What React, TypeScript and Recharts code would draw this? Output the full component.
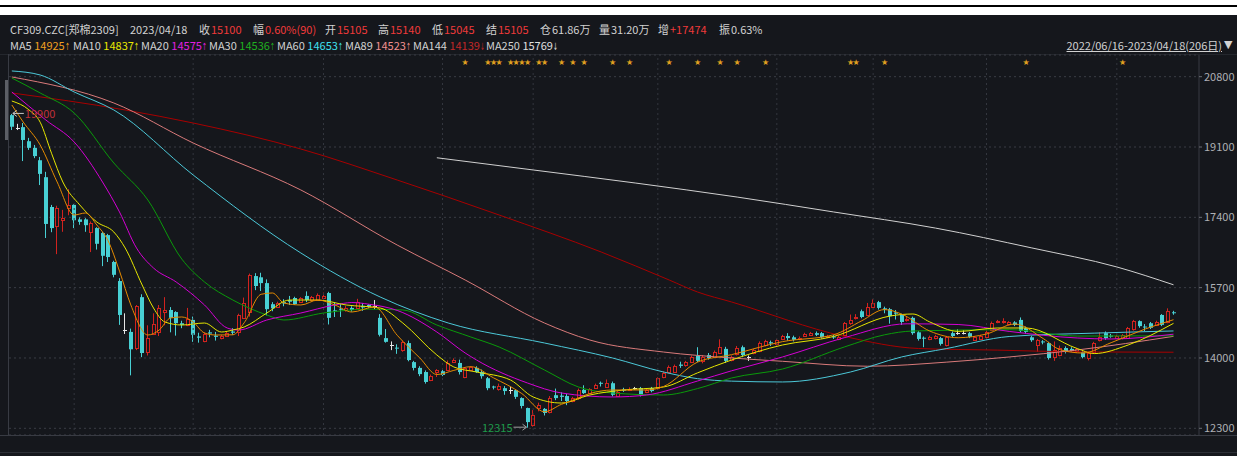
import React from 'react';
import {
    ComposedChart,
    Bar,
    Line,
    XAxis,
    YAxis,
    CartesianGrid,
    ReferenceLine,
    ReferenceDot
} from 'recharts';

// daily candles, 2022/06/16 - 2023/04/18 (206 days)
const OPEN = [
    19870, 19560, 19580, 19240, 19080, 18780, 18370, 17650, 17190, 17330,
    17630, 17700, 17350, 17350, 17040, 17140, 17020, 16970, 16320, 15860,
    14680, 14630, 14240, 15470, 14140, 14580, 14630, 15110, 15160, 15110,
    14840, 14800, 14920, 14520, 14410, 14620, 14540, 14480, 14530, 14640,
    14630, 14970, 15110, 15980, 15950, 15810, 15300, 15230, 15350, 15400,
    15450, 15350, 15500, 15400, 15400, 15460, 15570, 15150, 15190, 15160,
    15210, 15210, 15260, 15280, 15250, 14970, 14480, 14310, 14250, 14190,
    14360, 13900, 13760, 13660, 13470, 13660, 13680, 13720, 13910, 13880,
    13540, 13710, 13760, 13660, 13510, 13310, 13250, 13270, 13230, 13220,
    13030, 12790, 12380, 12800, 12770, 12690, 13100, 13090, 13080, 12960,
    13030, 13230, 13150, 13270, 13400, 13300, 13390, 13080, 13240, 13220,
    13270, 13270, 13170, 13270, 13270, 13540, 13660, 13660, 13840, 13830,
    13910, 14050, 13920, 14070, 14030, 14130, 14220, 13950, 14090, 14260,
    14020, 14120, 14170, 14310, 14380, 14330, 14460, 14530, 14500, 14460,
    14530, 14560, 14600, 14600, 14500, 14520, 14460, 14550, 14840, 14980,
    15130, 15040, 15230, 15350, 15200, 15180, 15100, 15040, 14930, 14970,
    14620, 14490, 14460, 14480, 14480, 14310, 14600, 14600, 14600, 14600,
    14440, 14460, 14510, 14680, 14870, 14880, 14820, 14860, 14920, 14720,
    14500, 14310, 14400, 14360, 14020, 14070, 14240, 14220, 14160, 14140,
    14000, 14140, 14430, 14600, 14540, 14480, 14480, 14480, 14700, 14890,
    14760, 14840, 14800, 15040, 14870, 15105
];
const HIGH = [
    19900, 19660, 19680, 19320, 19150, 18860, 18500, 17700, 17680, 17580,
    18080, 17720, 17400, 17380, 17300, 17160, 17050, 17000, 16350, 15930,
    15080, 14710, 15280, 15540, 14790, 15080, 15280, 15470, 15230, 15130,
    14900, 15210, 15000, 14610, 14620, 14680, 14630, 14560, 14640, 14720,
    15070, 15460, 16040, 16050, 16060, 15900, 15350, 15360, 15420, 15500,
    15480, 15470, 15610, 15500, 15560, 15580, 15600, 15350, 15300, 15260,
    15250, 15430, 15330, 15300, 15400, 15060, 14700, 14400, 14330, 14420,
    14420, 13930, 13800, 13700, 13600, 13730, 13720, 13940, 13990, 13960,
    13780, 13800, 13800, 13720, 13540, 13330, 13380, 13320, 13300, 13240,
    13050, 12800, 12740, 12920, 12790, 13080, 13260, 13170, 13130, 13060,
    13260, 13340, 13270, 13380, 13430, 13480, 13430, 13200, 13280, 13290,
    13300, 13300, 13260, 13300, 13530, 13680, 13820, 13840, 13910, 13930,
    14060, 14260, 14070, 14120, 14180, 14450, 14270, 14060, 14290, 14300,
    14060, 14220, 14400, 14440, 14420, 14460, 14560, 14600, 14540, 14520,
    14610, 14630, 14640, 14630, 14560, 14560, 14540, 14870, 15050, 15060,
    15170, 15330, 15420, 15380, 15240, 15210, 15160, 15070, 15000, 15000,
    14650, 14520, 14540, 14560, 14510, 14530, 14640, 14690, 14670, 14630,
    14530, 14560, 14660, 14880, 14920, 14960, 14890, 14890, 14980, 14760,
    14530, 14460, 14430, 14390, 14400, 14300, 14280, 14260, 14240, 14180,
    14150, 14390, 14620, 14640, 14580, 14560, 14580, 14750, 14920, 14910,
    14820, 14870, 14900, 15060, 15200, 15140
];
const LOW = [
    19510, 19510, 18760, 19030, 18830, 18180, 16900, 17040, 16510, 17050,
    17450, 17140, 17220, 17050, 16560, 16620, 16220, 16320, 15950, 14800,
    14580, 13580, 14190, 14020, 14060, 14560, 14530, 14790, 14620, 14540,
    14720, 14770, 14390, 14370, 14380, 14500, 14420, 14450, 14510, 14560,
    14530, 14940, 15000, 15640, 15620, 15030, 15130, 15210, 15250, 15280,
    15280, 15330, 15350, 15380, 15380, 15420, 14810, 14990, 14990, 15120,
    15120, 15180, 15140, 15200, 15180, 14520, 14370, 14190, 14100, 14150,
    13920, 13700, 13560, 13380, 13440, 13540, 13560, 13690, 13880, 13600,
    13510, 13680, 13640, 13500, 13220, 13240, 13210, 13110, 13130, 13010,
    12780, 12315, 12340, 12710, 12610, 12660, 12980, 12960, 12860, 12930,
    12990, 13130, 13120, 13250, 13310, 13280, 13070, 13060, 13180, 13200,
    13230, 13070, 13150, 13170, 13230, 13510, 13630, 13640, 13760, 13790,
    13880, 13900, 13870, 13960, 14000, 14100, 13880, 13920, 14060, 14020,
    13930, 14090, 14140, 14280, 14290, 14300, 14430, 14420, 14400, 14430,
    14510, 14530, 14530, 14470, 14480, 14460, 14430, 14520, 14800, 14930,
    14960, 15010, 15210, 15170, 15080, 14830, 14930, 14800, 14880, 14560,
    14420, 14260, 14430, 14450, 14300, 14280, 14500, 14560, 14570, 14480,
    14410, 14440, 14480, 14650, 14840, 14830, 14800, 14770, 14620, 14590,
    14390, 14150, 14330, 13960, 13930, 14040, 14110, 14140, 14120, 13990,
    13940, 14120, 14400, 14440, 14490, 14460, 14450, 14460, 14660, 14730,
    14650, 14700, 14780, 14770, 14840, 15045
];
const CLOSE = [
    19590, 19560, 19270, 19080, 18880, 18450, 17240, 17140, 17630, 17380,
    17700, 17330, 17290, 17210, 17260, 16760, 16470, 16440, 16010, 15040,
    14680, 14210, 15250, 14120, 14480, 14820, 15210, 15150, 14970, 14840,
    14800, 14940, 14560, 14490, 14580, 14590, 14510, 14530, 14600, 14610,
    15040, 15330, 16000, 15740, 15810, 15180, 15200, 15320, 15320, 15360,
    15300, 15450, 15400, 15470, 15520, 15490, 14970, 15130, 15170, 15210,
    15160, 15350, 15220, 15240, 15250, 14560, 14390, 14310, 14230, 14380,
    13950, 13760, 13610, 13420, 13560, 13710, 13590, 13880, 13960, 13660,
    13750, 13780, 13660, 13560, 13270, 13290, 13320, 13200, 13230, 13060,
    12840, 12450, 12610, 12870, 12670, 13030, 13030, 13060, 12960, 13030,
    13220, 13150, 13240, 13340, 13380, 13390, 13110, 13170, 13210, 13250,
    13270, 13100, 13220, 13200, 13510, 13630, 13780, 13800, 13810, 13900,
    14030, 13930, 14020, 14000, 14140, 14260, 13930, 14020, 14240, 14070,
    14020, 14190, 14360, 14400, 14350, 14430, 14530, 14480, 14440, 14490,
    14580, 14600, 14560, 14500, 14530, 14500, 14510, 14840, 14920, 15000,
    14990, 15230, 15330, 15210, 15170, 15010, 15070, 14870, 14950, 14600,
    14460, 14470, 14500, 14530, 14340, 14500, 14530, 14600, 14600, 14510,
    14500, 14530, 14630, 14840, 14890, 14900, 14860, 14800, 14650, 14630,
    14430, 14430, 14380, 14000, 14190, 14240, 14150, 14170, 14210, 14020,
    14120, 14360, 14500, 14480, 14520, 14530, 14550, 14720, 14890, 14770,
    14740, 14730, 14870, 14800, 15130, 15100
];

// moving averages as [day, value]
const MA5 = [
    [0, 20116], [2, 19705], [5, 19149], [8, 18254], [11, 17456], [13, 17505], [15, 17215],
    [17, 16830], [19, 16100], [21, 15281], [24, 14555], [26, 14676], [28, 14966], [30, 14991],
    [32, 14870], [34, 14604], [36, 14555], [39, 14560], [41, 14850], [44, 15540], [46, 15571],
    [48, 15329], [51, 15281], [54, 15401], [57, 15281], [60, 15111], [64, 15232], [68, 14550],
    [72, 14000], [75, 13600], [78, 13700], [81, 13790], [85, 13520], [90, 13140], [94, 12700],
    [97, 12880], [99, 12980], [102, 13140], [106, 13226], [112, 13226], [115, 13310],
    [121, 13900], [127, 14080], [136, 14395], [145, 14560], [150, 14900], [154, 15170],
    [157, 15063], [162, 14650], [167, 14490], [172, 14580], [177, 14820], [182, 14470],
    [185, 14200], [189, 14120], [194, 14370], [200, 14700], [205, 14925]
];
const MA10 = [
    [0, 20212], [3, 20000], [5, 19700], [7, 18950], [9, 18254], [12, 17698], [15, 17287],
    [18, 17045], [20, 16659], [23, 15764], [25, 15208], [27, 14870], [30, 14797], [34, 14845],
    [37, 14628], [39, 14676], [41, 14749], [45, 15087], [49, 15401], [54, 15401], [59, 15281],
    [65, 15208], [69, 14845], [75, 14072], [78, 13782], [82, 13661], [88, 13467], [92, 13057],
    [97, 12911], [102, 13105], [108, 13226], [115, 13298], [121, 13640], [127, 13951],
    [136, 14314], [145, 14519], [155, 15015], [159, 15063], [162, 14870], [167, 14642],
    [174, 14725], [179, 14725], [188, 14229], [191, 14106], [197, 14314], [205, 14837]
];
const MA20 = [
    [0, 20430], [6, 19753], [11, 19221], [16, 18254], [19, 17529], [22, 16659], [25, 16175],
    [29, 15837], [34, 15281], [38, 14725], [40, 14676], [45, 14918], [51, 15087], [57, 15281],
    [60, 15340], [63, 15300], [68, 15150], [75, 14628], [80, 14121], [82, 13951], [91, 13395],
    [97, 13153], [106, 13057], [112, 13105], [121, 13443], [127, 13690], [136, 14024],
    [147, 14494], [158, 14826], [167, 14809], [176, 14642], [188, 14483], [194, 14459],
    [205, 14575]
];
const MA30 = [
    [0, 20768], [5, 20406], [11, 19922], [18, 18713], [24, 17819], [30, 16390], [34, 15837],
    [39, 15401], [45, 15039], [48, 14918], [55, 15087], [63, 15180], [69, 15160], [75, 14797],
    [81, 14507], [86, 14265], [94, 13709], [100, 13298], [106, 13153], [115, 13105],
    [121, 13260], [127, 13516], [136, 13733], [147, 14270], [154, 14560], [159, 14652],
    [176, 14684], [188, 14530], [205, 14536]
];
const MA60 = [
    [0, 20938], [5, 20841], [11, 20430], [18, 19995], [32, 18423], [51, 16538], [65, 15474],
    [77, 14846], [94, 14362], [106, 14000], [115, 13661], [121, 13500], [127, 13440],
    [136, 13420], [148, 13661], [157, 14024], [165, 14229], [176, 14519], [191, 14600],
    [205, 14653]
];
const MA89 = [
    [0, 20793], [18, 20164], [32, 19197], [51, 18061], [68, 16731], [80, 15885], [94, 14845],
    [102, 14434], [115, 14144], [127, 14000], [136, 13920], [151, 13800], [165, 13900],
    [176, 14024], [188, 14193], [205, 14523]
];
const MA144 = [
    [0, 20406], [20, 19995], [32, 19680], [51, 19052], [68, 18302], [86, 17456], [104, 16562],
    [116, 15885], [121, 15595], [127, 15354], [147, 14519], [160, 14229], [174, 14190],
    [188, 14147], [205, 14139]
];
const MA250 = [
    [75, 18840], [92, 18545], [110, 18230], [128, 17890], [145, 17530], [163, 17140],
    [180, 16660], [195, 16200], [205, 15769]
];

const PRICE_TICKS = [12300, 14000, 15700, 17400, 19100, 20800];
const MONTH_STARTS = [11, 32, 55, 76, 92, 114, 135, 152, 172, 195];
const STAR_DAYS = [80, 84, 85, 86, 88, 89, 90, 91, 93, 94, 97, 99, 101, 106, 109, 116, 121, 125, 128, 133, 148, 149, 154, 179, 196];
const HIGH_MARK = { day: 0, value: 19900 };
const LOW_MARK = { day: 91, value: 12315 };

const HEADER = [
    { x: 10, label: 'CF309.CZC[郑棉2309]', value: '', color: '#d2d2d2' },
    { x: 130, label: '2023/04/18', value: '', color: '#d2d2d2' },
    { x: 199, label: '收', value: '15100', color: '#f03a3a' },
    { x: 253, label: '幅', value: '0.60%(90)', color: '#f03a3a' },
    { x: 325, label: '开', value: '15105', color: '#f03a3a' },
    { x: 378, label: '高', value: '15140', color: '#f03a3a' },
    { x: 432, label: '低', value: '15045', color: '#f03a3a' },
    { x: 486, label: '结', value: '15105', color: '#f03a3a' },
    { x: 540, label: '仓', value: '61.86万', color: '#d2d2d2' },
    { x: 599, label: '量', value: '31.20万', color: '#d2d2d2' },
    { x: 658, label: '增', value: '+17474', color: '#f03a3a' },
    { x: 719, label: '振', value: '0.63%', color: '#d2d2d2' }
];

const MA_LEGEND = [
    { x: 10, name: 'MA5', value: '14925', dir: '↑', color: '#f0a020' },
    { x: 73, name: 'MA10', value: '14837', dir: '↑', color: '#e8e800' },
    { x: 141, name: 'MA20', value: '14575', dir: '↑', color: '#e020e0' },
    { x: 209, name: 'MA30', value: '14536', dir: '↑', color: '#20b020' },
    { x: 277, name: 'MA60', value: '14653', dir: '↑', color: '#40e0ee' },
    { x: 345, name: 'MA89', value: '14523', dir: '↑', color: '#f09090' },
    { x: 413, name: 'MA144', value: '14139', dir: '↓', color: '#c02828' },
    { x: 486, name: 'MA250', value: '15769', dir: '↓', color: '#e0e0e0' }
];

const BG = '#15171c';
const LINE = '#383b43';
const UP = '#d2231f';
const DOWN = '#48d0d4';
const FONT = '"Noto Sans CJK SC", "Noto Sans", sans-serif';
const STAR_PRICE = 21155;
const SLOTS = 210;

const rows: any[] = Array.from({ length: SLOTS }, (_, i) => {
    const r: any = { i };
    if (i < OPEN.length) {
        r.o = OPEN[i];
        r.h = HIGH[i];
        r.l = LOW[i];
        r.c = CLOSE[i];
    }
    return r;
});
const addMa = (key: string, pts: number[][]) => {
    pts.forEach(([i, v]) => {
        rows[i][key] = v;
    });
};
addMa('ma5', MA5);
addMa('ma10', MA10);
addMa('ma20', MA20);
addMa('ma30', MA30);
addMa('ma60', MA60);
addMa('ma89', MA89);
addMa('ma144', MA144);
addMa('ma250', MA250);

const MA_LINES = [
    { key: 'ma250', color: '#d0d0d0' },
    { key: 'ma144', color: '#a80000' },
    { key: 'ma89', color: '#d97a7a' },
    { key: 'ma60', color: '#4cc8d8' },
    { key: 'ma30', color: '#0a9a0a' },
    { key: 'ma20', color: '#d400d4' },
    { key: 'ma10', color: '#e6e600' },
    { key: 'ma5', color: '#e58a00' }
];

const Candle = (props: any) => {
    const { x, y, width, height, payload } = props;
    if (!payload || payload.o == null || isNaN(y)) return null;
    const { o, h, l, c } = payload;
    const top = Math.min(y, y + height);
    const span = Math.abs(height);
    const k = h === l ? 0 : span / (h - l);
    const py = (v: number) => top + (h - v) * k;
    const xc = Math.round(x + width / 2);
    const wx = xc - 0.5;
    const yH = py(h);
    const yL = py(l);
    const bt = py(Math.max(o, c));
    const bb = py(Math.min(o, c));
    if (c === o) {
        return (
            <g>
                <line x1={wx} x2={wx} y1={yH} y2={yL} stroke="#e6e6e6" />
                <line x1={xc - 2} x2={xc + 2} y1={Math.round(bt) + 0.5} y2={Math.round(bt) + 0.5} stroke="#e6e6e6" />
            </g>
        );
    }
    if (c > o) {
        const t = Math.round(bt) + 0.5;
        const b = Math.max(Math.round(bb) + 0.5, t + 1);
        return (
            <g>
                <line x1={wx} x2={wx} y1={yH} y2={t} stroke={UP} />
                <line x1={wx} x2={wx} y1={b} y2={yL} stroke={UP} />
                <rect x={xc - 1.5} y={t} width={3} height={b - t} fill={BG} stroke={UP} />
            </g>
        );
    }
    return (
        <g>
            <line x1={wx} x2={wx} y1={yH} y2={yL} stroke={DOWN} />
            <rect x={xc - 2} y={bt} width={4} height={Math.max(bb - bt, 1)} fill={DOWN} />
        </g>
    );
};

const Star = (props: any) => (
    <text x={props.cx} y={props.cy + 3} textAnchor="middle" fontSize={8} fill="#e0a020" fontFamily="DejaVu Sans">
        ★
    </text>
);

const HighLabel = (props: any) => (
    <g>
        <line x1={props.cx + 1} x2={props.cx + 12} y1={props.cy - 0.5} y2={props.cy - 0.5} stroke="#c8c8c8" />
        <path d={`M${props.cx + 1},${props.cy - 0.5} l4,-3 M${props.cx + 1},${props.cy - 0.5} l4,3`} stroke="#c8c8c8" fill="none" />
        <text x={props.cx + 13} y={props.cy + 4} fontSize={11} fill="#c0303a" fontFamily={FONT}>
            {HIGH_MARK.value}
        </text>
    </g>
);

const LowLabel = (props: any) => (
    <g>
        <line x1={props.cx - 14} x2={props.cx - 1} y1={props.cy - 0.5} y2={props.cy - 0.5} stroke="#a0a0a0" />
        <path d={`M${props.cx - 1},${props.cy - 0.5} l-4,-3 M${props.cx - 1},${props.cy - 0.5} l-4,3`} stroke="#a0a0a0" fill="none" />
        <text x={props.cx - 15} y={props.cy + 4} textAnchor="end" fontSize={11} fill="#1e9a4a" fontFamily={FONT}>
            {LOW_MARK.value}
        </text>
    </g>
);

const arrowStyle: React.CSSProperties = {
    display: 'inline-block',
    width: 5,
    fontFamily: 'DejaVu Sans',
    fontSize: 10,
    transform: 'scaleX(0.55)',
    transformOrigin: 'left center'
};

const textRow: React.CSSProperties = {
    position: 'absolute',
    fontSize: 11,
    lineHeight: '16px',
    whiteSpace: 'nowrap',
    color: '#d2d2d2'
};

export default function App() {
    return (
        <div style={{ position: 'relative', width: 1237, height: 456, background: '#fff', overflow: 'hidden', fontFamily: FONT }}>
            <style>{'body{margin:0}'}</style>
            <div style={{ position: 'absolute', left: 0, top: 5, width: 1237, height: 2, background: '#000' }} />
            <div style={{ position: 'absolute', left: 0, top: 15, width: 1237, height: 441, background: BG }} />

            {HEADER.map((h) => (
                <div key={h.x} style={{ ...textRow, left: h.x, top: 21 }}>
                    {h.label}
                    {h.value && <span style={{ color: h.color, marginLeft: 1 }}>{h.value}</span>}
                </div>
            ))}

            {MA_LEGEND.map((m) => (
                <div key={m.name} style={{ ...textRow, left: m.x, top: 37 }}>
                    {m.name} <span style={{ color: m.color }}>{m.value}</span>
                    <span style={{ ...arrowStyle, color: m.color }}>{m.dir}</span>
                </div>
            ))}

            <div style={{ ...textRow, right: 15, top: 37, textDecoration: 'underline' }}>
                2022/06/16-2023/04/18(206日)
            </div>
            <div style={{ ...textRow, left: 1224, top: 37, fontSize: 11, fontFamily: 'DejaVu Sans' }}>▼</div>

            <div style={{ position: 'absolute', left: 0, top: 54, width: 1237, height: 1, background: '#24272d' }} />
            <div style={{ position: 'absolute', left: 8, top: 54, width: 1, height: 381, background: LINE }} />
            <div style={{ position: 'absolute', left: 5, top: 80, width: 3, height: 60, background: '#5c5f66' }} />
            <div style={{ position: 'absolute', left: 0, top: 435, width: 1237, height: 1, background: LINE }} />
            <div style={{ position: 'absolute', left: 0, top: 452, width: 1237, height: 1, background: '#2c2f36' }} />

            <div style={{ position: 'absolute', left: 0, top: 0 }}>
                <ComposedChart width={1237} height={456} data={rows} margin={{ top: 55, right: 3, bottom: 21, left: 9 }}>
                    <CartesianGrid vertical={false} stroke="#3a3d45" strokeDasharray="2 3" />
                    <XAxis dataKey="i" type="category" hide />
                    <YAxis
                        orientation="right"
                        width={35}
                        domain={[12138, 21324]}
                        ticks={PRICE_TICKS}
                        allowDataOverflow
                        axisLine={{ stroke: LINE }}
                        tickLine={{ stroke: '#6a6d74' }}
                        tickSize={3}
                        tickMargin={2}
                        tick={{ fill: '#aeb0b4', fontSize: 11, fontFamily: FONT }}
                    />
                    {MONTH_STARTS.map((d) => (
                        <ReferenceLine key={d} x={d} stroke="#33363e" strokeDasharray="2 3" />
                    ))}
                    <Bar
                        dataKey={(d: any) => (d.h == null ? null : [d.l, d.h])}
                        barSize={4}
                        shape={(p: any) => <Candle {...p} />}
                        isAnimationActive={false}
                    />
                    {MA_LINES.map((m) => (
                        <Line
                            key={m.key}
                            dataKey={m.key}
                            type="monotone"
                            stroke={m.color}
                            strokeWidth={1}
                            dot={false}
                            activeDot={false}
                            connectNulls
                            isAnimationActive={false}
                        />
                    ))}
                    {STAR_DAYS.map((d) => (
                        <ReferenceDot key={d} x={d} y={STAR_PRICE} r={0} shape={(p: any) => <Star {...p} />} />
                    ))}
                    <ReferenceDot x={HIGH_MARK.day} y={HIGH_MARK.value} r={0} shape={(p: any) => <HighLabel {...p} />} />
                    <ReferenceDot x={LOW_MARK.day} y={LOW_MARK.value} r={0} shape={(p: any) => <LowLabel {...p} />} />
                </ComposedChart>
            </div>
        </div>
    );
}
